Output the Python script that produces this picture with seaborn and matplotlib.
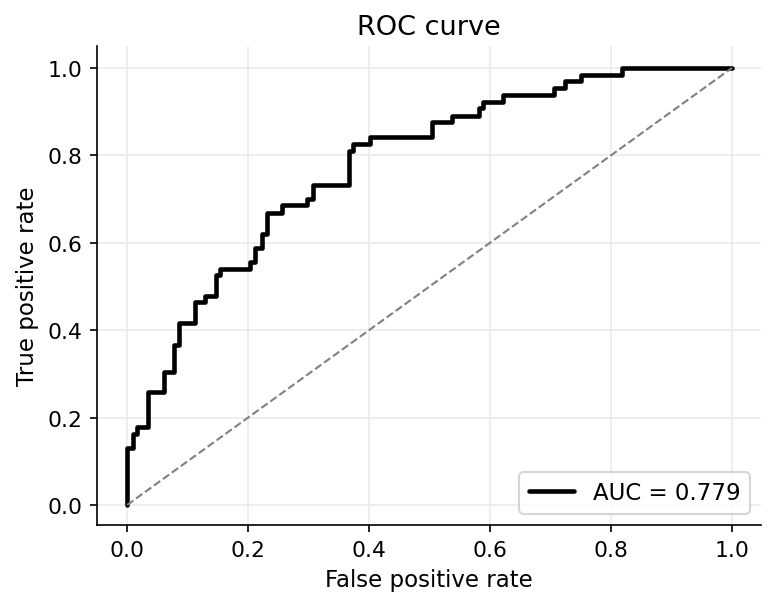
import numpy as np
import pandas as pd
import matplotlib
matplotlib.use('Agg')
import matplotlib.pyplot as plt
import seaborn as sns

#### DATA

fpr = [0.0, 0.0, 0.009, 0.017, 0.035, 0.061, 0.077, 0.085, 0.112, 0.129, 0.147, 0.153,
       0.203, 0.212, 0.223, 0.231, 0.256, 0.298, 0.307, 0.367, 0.374, 0.402, 0.504,
       0.537, 0.581, 0.588, 0.622, 0.706, 0.724, 0.750, 0.818, 1.0]
tpr = [0.0, 0.13, 0.162, 0.178, 0.258, 0.304, 0.366, 0.416, 0.464, 0.479, 0.526, 0.540,
       0.557, 0.587, 0.620, 0.668, 0.686, 0.700, 0.731, 0.811, 0.826, 0.843, 0.876,
       0.891, 0.908, 0.923, 0.937, 0.954, 0.969, 0.984, 1.0, 1.0]
auc = 0.779

chance = [0.0, 1.0]

df = pd.DataFrame({'fpr': fpr, 'tpr': tpr})

#### PLOT

sns.set_style("white")
plt.rcParams['font.family'] = ['DejaVu Sans']
plt.rcParams['text.color'] = 'black'
plt.rcParams['axes.labelcolor'] = 'black'
plt.rcParams['xtick.color'] = 'black'
plt.rcParams['ytick.color'] = 'black'

fg = plt.figure(figsize=(5.1667, 4.0733), dpi=150)
ax = fg.add_axes([0.125, 0.139, 0.857, 0.784])

ax.grid(True, color='#ebebeb', linewidth=0.8)
ax.set_axisbelow(True)

sns.lineplot(data=df, x='fpr', y='tpr', sort=False, estimator=None, drawstyle='steps-post',
             color='black', linewidth=2.2, label=f'AUC = {auc:.3f}', ax=ax)
ax.plot(chance, chance, linestyle='--', color='grey', linewidth=1)

ax.set_xlim(-0.05, 1.048)
ax.set_ylim(-0.046, 1.05)
ax.set_xticks([0, 0.2, 0.4, 0.6, 0.8, 1.0])
ax.set_yticks([0, 0.2, 0.4, 0.6, 0.8, 1.0])
ax.tick_params(axis='both', which='major', direction='out', length=3.5, width=0.8,
               color='black', labelcolor='black', labelsize=10.5, bottom=True, left=True)

for s in ['top', 'right']:
    ax.spines[s].set_visible(False)
for s in ['left', 'bottom']:
    ax.spines[s].set_color('black')
    ax.spines[s].set_linewidth(0.8)

ax.set_xlabel('False positive rate', fontsize=11, color='black')
ax.set_ylabel('True positive rate', fontsize=11, color='black')
ax.set_title('ROC curve', fontsize=13, color='black')

ax.legend(loc='lower right', fontsize=11, frameon=True, edgecolor='#cccccc')

fg.savefig('out.png', dpi=150)
